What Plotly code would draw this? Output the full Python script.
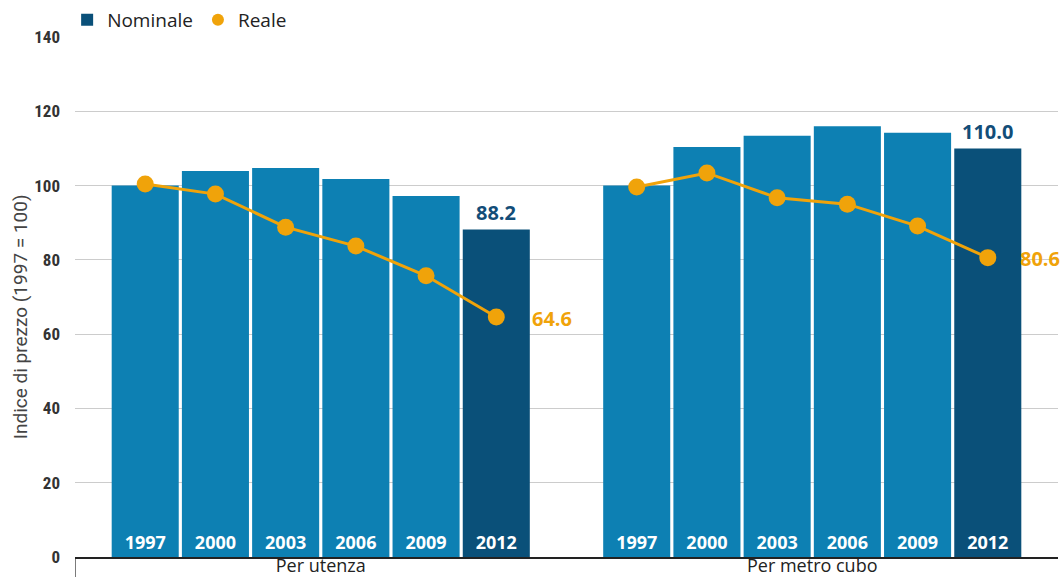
import plotly.graph_objects as go

groups = ["Per utenza", "Per metro cubo"]
years = ["1997", "2000", "2003", "2006", "2009", "2012"]
nominale = {
    "Per utenza": [100.0, 103.9, 104.7, 101.8, 97.2, 88.2],
    "Per metro cubo": [100.0, 110.4, 113.4, 116.0, 114.2, 110.0],
}
reale = {
    "Per utenza": [100.4, 97.7, 88.8, 83.7, 75.7, 64.6],
    "Per metro cubo": [99.6, 103.4, 96.7, 95.0, 89.1, 80.6],
}
y_ticks = [0, 20, 40, 60, 80, 100, 120, 140]
y_title = "Indice di prezzo (1997 = 100)"

LIGHT = "#0d80b3"
DARK = "#0a5079"
ORANGE = "#f0a30a"
GROUP_SPAN = len(years) + 1
FONT = "Open Sans, DejaVu Sans"

fig = go.Figure()

for g, grp in enumerate(groups):
    xs = [g * GROUP_SPAN + j for j in range(len(years))]
    colors = [LIGHT] * (len(years) - 1) + [DARK]
    fig.add_trace(go.Bar(
        x=xs, y=nominale[grp], width=0.955,
        marker=dict(color=colors, line=dict(width=0)),
        text=years, textposition="inside", insidetextanchor="start",
        textfont=dict(family=FONT, size=18, color="white", weight="bold"),
        textangle=0, showlegend=False, hoverinfo="skip", cliponaxis=False,
    ))
    fig.add_trace(go.Scatter(
        x=xs, y=reale[grp], mode="lines+markers",
        line=dict(color=ORANGE, width=3),
        marker=dict(color=ORANGE, size=17),
        showlegend=False, hoverinfo="skip", cliponaxis=False,
    ))
    fig.add_annotation(
        x=xs[-1], y=nominale[grp][-1], text=f"{nominale[grp][-1]:.1f}",
        showarrow=False, yanchor="bottom", yshift=1,
        font=dict(family=FONT, size=20, color="#124d78", weight="bold"),
    )
    fig.add_annotation(
        x=xs[-1], y=reale[grp][-1], text=f"{reale[grp][-1]:.1f}",
        showarrow=False, xanchor="left", xshift=34 if g == 0 else 30, yshift=-1,
        font=dict(family=FONT, size=20, color=ORANGE, weight="bold"),
    )

fig.add_trace(go.Scatter(x=[None], y=[None], mode="markers", name="Nominale",
                         marker=dict(symbol="square", color=DARK, size=16)))
fig.add_trace(go.Scatter(x=[None], y=[None], mode="markers", name="Reale",
                         marker=dict(symbol="circle", color=ORANGE, size=16)))

centers = [g * GROUP_SPAN + (len(years) - 1) / 2 for g in range(len(groups))]

fig.add_shape(type="line", xref="x", yref="paper", x0=-1, x1=-1, y0=0, y1=-0.04,
              line=dict(color="#222", width=1.2))

fig.add_annotation(
    xref="paper", yref="paper", x=-0.056, y=0.463, text=y_title, textangle=-90,
    showarrow=False, xanchor="center", yanchor="middle",
    font=dict(family="Roboto, Liberation Sans", size=19, color="#444"),
)

fig.update_layout(
    width=1062, height=577,
    margin=dict(l=75, r=4, t=37, b=20, autoexpand=False),
    plot_bgcolor="white", paper_bgcolor="white",
    barmode="overlay",
    font=dict(family=FONT, color="#222"),
    legend=dict(orientation="h", x=-0.008, xanchor="left", y=1.033, yanchor="middle",
                font=dict(size=19, color="#222"), itemsizing="constant",
                bgcolor="rgba(0,0,0,0)"),
    xaxis=dict(
        range=[-1, 2 * GROUP_SPAN - 1], tickvals=centers, ticktext=groups,
        showgrid=False, zeroline=False, showline=True, linecolor="#222", linewidth=1.5,
        ticks="", tickfont=dict(size=18, color="#222"), ticklabelstandoff=-8,
        automargin=False,
    ),
    yaxis=dict(
        range=[0, 140], tickvals=y_ticks, showgrid=True, gridcolor="#cccccc", gridwidth=1,
        zeroline=False, showline=False, ticks="", automargin=False,
        tickfont=dict(family="Liberation Sans Narrow, Roboto Condensed, Liberation Sans", size=17,
                      color="#333", weight="bold"),
        ticklabelstandoff=14,
    ),
)

fig.write_html("out.html")
